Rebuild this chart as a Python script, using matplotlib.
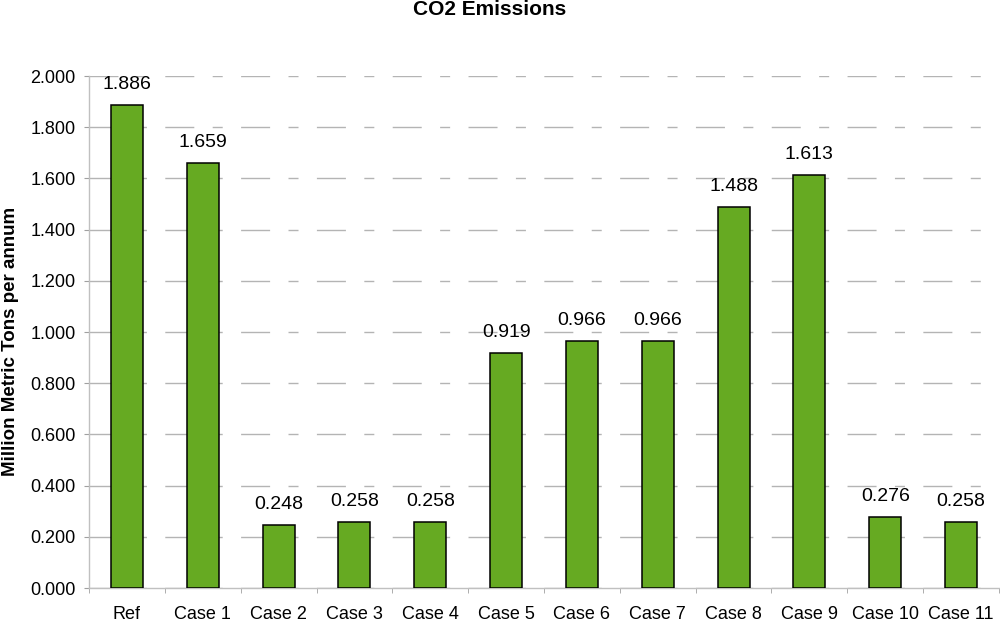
import matplotlib.pyplot as plt
import numpy as np

plt.rcParams["font.family"] = ["Liberation Sans", "DejaVu Sans"]
plt.rcParams["lines.scale_dashes"] = False

# %% data
categories = ["Ref", "Case 1", "Case 2", "Case 3", "Case 4", "Case 5",
              "Case 6", "Case 7", "Case 8", "Case 9", "Case 10", "Case 11"]
emissions = [1.886, 1.659, 0.248, 0.258, 0.258, 0.919,
             0.966, 0.966, 1.488, 1.613, 0.276, 0.258]
y_ticks = np.arange(0, 2.001, 0.2)

# %% figure
fig = plt.figure(figsize=(10, 6.21), dpi=100)
ax = fig.add_axes([0.089, 0.0531, 0.910, 0.8245])

x = np.arange(len(categories))
bars = ax.bar(x, emissions, width=0.42, color="#66AA22", edgecolor="black",
              linewidth=1.1, zorder=3)

for xi, val in zip(x, emissions):
    ax.annotate("{:.3f}".format(val), (xi, val), xytext=(0, 11.5),
                textcoords="offset points", ha="center", va="baseline",
                fontsize=14, annotation_clip=False)

ax.set_xlim(-0.5, len(categories) - 0.5)
ax.set_ylim(0, 2.0)

# x axis: labels at centres, tick marks at the category boundaries
ax.set_xticks(x)
ax.set_xticklabels(categories, fontsize=13)
ax.set_xticks(np.arange(-0.5, len(categories)), minor=True)
ax.tick_params(axis="x", which="major", length=0, pad=13)
ax.tick_params(axis="x", which="minor", length=5 * 0.72, color="#a0a0a0")

ax.set_yticks(y_ticks)
ax.set_yticklabels(["{:.3f}".format(t) for t in y_ticks], fontsize=13)
ax.tick_params(axis="y", length=5 * 0.72, color="#a0a0a0", pad=6)

# dashed grid: long dash, short dash repeated once per category
ax.yaxis.grid(True, color="#b4b4b4", linewidth=1.0,
              linestyle=(0, (20.88, 13.25, 7.2, 13.25)), zorder=1)
ax.set_axisbelow(True)

for side in ["top", "right"]:
    ax.spines[side].set_visible(False)
for side in ["left", "bottom"]:
    ax.spines[side].set_color("#c0c0c0")
    ax.spines[side].set_linewidth(1.0)

fig.text(0.49, 1 - 9.5 / 621, "CO2 Emissions", ha="center", va="center",
         fontsize=15, fontweight="bold")
fig.text(0.011, 1 - 341 / 621, "Million Metric Tons per annum", rotation=90,
         ha="center", va="center", fontsize=13.5, fontweight="bold")

fig.savefig("out.png", dpi=100)
